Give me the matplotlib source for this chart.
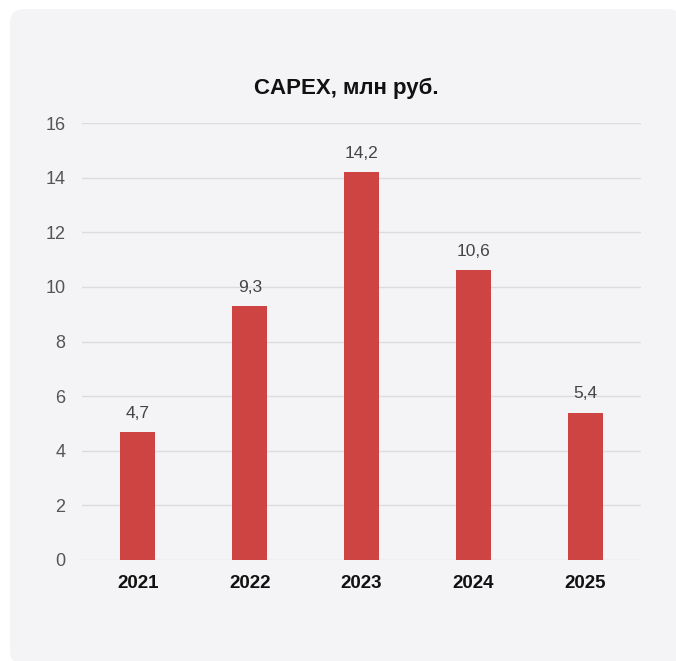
import matplotlib
matplotlib.use("Agg")
import matplotlib.pyplot as plt
from matplotlib.patches import FancyBboxPatch

years = ["2021", "2022", "2023", "2024", "2025"]
capex = [4.7, 9.3, 14.2, 10.6, 5.4]
value_labels = ["4,7", "9,3", "14,2", "10,6", "5,4"]
y_ticks = [0, 2, 4, 6, 8, 10, 12, 14, 16]

W, H = 676, 661
DPI = 100
plt.rcParams["font.family"] = ["Liberation Sans", "DejaVu Sans"]

fig = plt.figure(figsize=(W / DPI, H / DPI), dpi=DPI, facecolor="white")

# rounded light panel behind the chart
panel = FancyBboxPatch((10 / W, -4 / H), 672 / W, 656 / H,
                       boxstyle="round,pad=0,rounding_size=0.022",
                       transform=fig.transFigure, facecolor="#f4f4f6",
                       edgecolor="none", zorder=-10)
fig.patches.append(panel)

ax = fig.add_axes([82 / W, 1 - 560 / H, (641 - 82) / W, (560 - 123) / H])
ax.set_zorder(1)
ax.set_facecolor("none")

x = range(len(years))
ax.bar(x, capex, width=0.313, color="#cd4443", zorder=3)

ax.set_xlim(-0.5, len(years) - 0.5)
ax.set_ylim(0, 16)
ax.set_yticks(y_ticks)
ax.set_yticklabels([str(t) for t in y_ticks], fontsize=13, color="#555555")
ax.set_xticks(list(x))
ax.set_xticklabels(years, fontsize=13.5, fontweight="bold", color="#111111")
ax.tick_params(axis="y", length=0, pad=12)
ax.tick_params(axis="x", length=0, pad=11)

ax.grid(axis="y", color="#dcdcde", linewidth=1.0, zorder=0)
for s in ax.spines.values():
    s.set_visible(False)

for xi, v, lab in zip(x, capex, value_labels):
    ax.annotate(lab, (xi, v), xytext=(0, 8), textcoords="offset points",
                ha="center", va="bottom", fontsize=12.5, color="#444444")

fig.text(346 / W, 1 - 88 / H, "CAPEX, млн руб.", ha="center", va="center",
         fontsize=16, fontweight="bold", color="#111111")

fig.savefig("out.png", dpi=DPI, facecolor="white")
